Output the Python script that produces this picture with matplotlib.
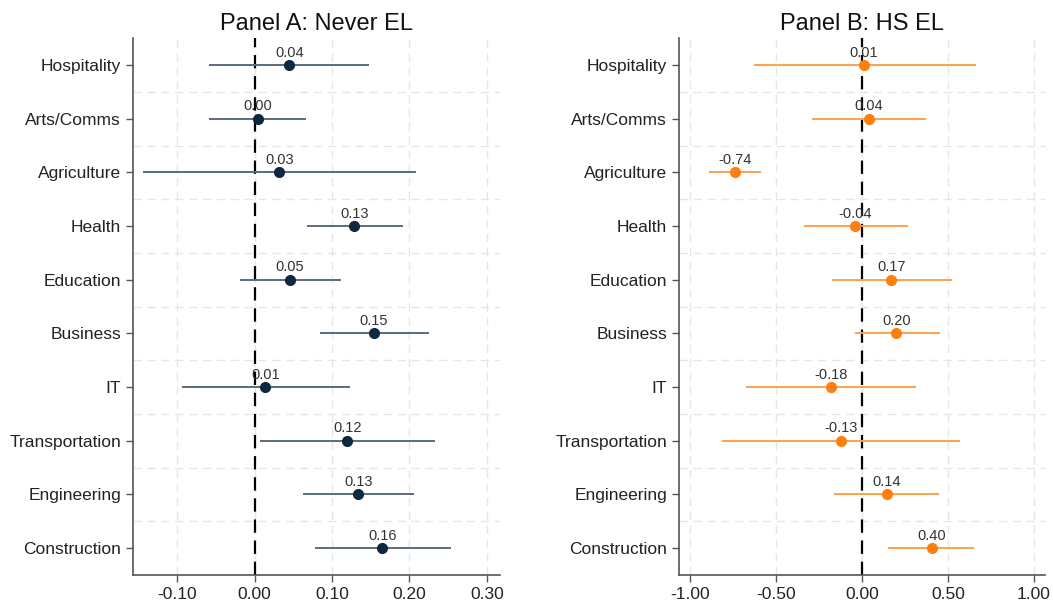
import matplotlib
matplotlib.use("Agg")
import matplotlib.pyplot as plt
from matplotlib.ticker import FixedLocator

plt.rcParams['font.family'] = ['Liberation Sans', 'DejaVu Sans']

sectors = ["Hospitality", "Arts/Comms", "Agriculture", "Health", "Education",
           "Business", "IT", "Transportation", "Engineering", "Construction"]

# Panel A: Never EL
a_est = [0.045, 0.004, 0.032, 0.129, 0.046, 0.154, 0.014, 0.120, 0.134, 0.165]
a_lo = [-0.058, -0.058, -0.143, 0.069, -0.017, 0.086, -0.093, 0.008, 0.064, 0.080]
a_hi = [0.147, 0.065, 0.207, 0.190, 0.111, 0.224, 0.122, 0.232, 0.205, 0.252]
a_lab = ["0.04", "0.00", "0.03", "0.13", "0.05", "0.15", "0.01", "0.12", "0.13", "0.16"]
a_ticks = [-0.10, 0.00, 0.10, 0.20, 0.30]

# Panel B: HS EL
b_est = [0.012, 0.04, -0.738, -0.04, 0.17, 0.20, -0.18, -0.124, 0.144, 0.405]
b_lo = [-0.622, -0.285, -0.884, -0.33, -0.17, -0.035, -0.67, -0.81, -0.157, 0.159]
b_hi = [0.657, 0.366, -0.593, 0.26, 0.52, 0.45, 0.31, 0.562, 0.444, 0.647]
b_lab = ["0.01", "0.04", "-0.74", "-0.04", "0.17", "0.20", "-0.18", "-0.13", "0.14", "0.40"]
b_ticks = [-1.00, -0.50, 0.00, 0.50, 1.00]


def draw_panel(ax, title, est, lo, hi, labels, ticks, xlim, line_c, dot_c):
    ypos = list(range(len(sectors)))
    ax.set_ylim(len(sectors) - 0.5, -0.5)
    ax.set_xlim(*xlim)
    for y, e, l, h, t in zip(ypos, est, lo, hi, labels):
        ax.plot([l, h], [y, y], color=line_c, lw=1.4, zorder=3)
        ax.plot(e, y, 'o', color=dot_c, ms=7, zorder=4)
        ax.annotate(t, (e, y), xytext=(0, 4), textcoords='offset points',
                    ha='center', va='bottom', fontsize=10.5, color='#333333', zorder=5)
    ax.axvline(0, color='black', lw=1.6, ls=(0, (6, 3.5)), zorder=2)

    ax.set_yticks(ypos)
    ax.set_yticklabels(sectors, fontsize=12.5, color='#222222')
    ax.yaxis.set_minor_locator(FixedLocator([y + 0.5 for y in ypos[:-1]]))
    ax.set_xticks(ticks)
    ax.set_xticklabels([f"{t:.2f}" for t in ticks], fontsize=12.5, color='#222222')

    ax.grid(True, axis='x', which='major', color='#e6e6e6', ls=(0, (6, 4)), lw=1)
    ax.grid(True, axis='y', which='minor', color='#e6e6e6', ls=(0, (6, 4)), lw=1)
    ax.tick_params(axis='y', which='minor', length=0)
    ax.tick_params(axis='both', which='major', length=5, width=1, color='#555555', direction='out')
    for s in ['top', 'right']:
        ax.spines[s].set_visible(False)
    for s in ['left', 'bottom']:
        ax.spines[s].set_color('#555555')
        ax.spines[s].set_linewidth(1.2)
    ax.set_title(title, fontsize=17, color='#111111', pad=6)


fig = plt.figure(figsize=(10.53, 6.07), dpi=100)
ax1 = fig.add_axes([0.1263, 0.0527, 0.3485, 0.8843])
ax2 = fig.add_axes([0.6448, 0.0527, 0.3476, 0.8843])

draw_panel(ax1, "Panel A: Never EL", a_est, a_lo, a_hi, a_lab, a_ticks,
           (-0.157, 0.317), '#5b6b7b', '#0f2740')
draw_panel(ax2, "Panel B: HS EL", b_est, b_lo, b_hi, b_lab, b_ticks,
           (-1.064, 1.064), '#ffa04d', '#ff7f0e')

fig.savefig("out.png", dpi=100)
